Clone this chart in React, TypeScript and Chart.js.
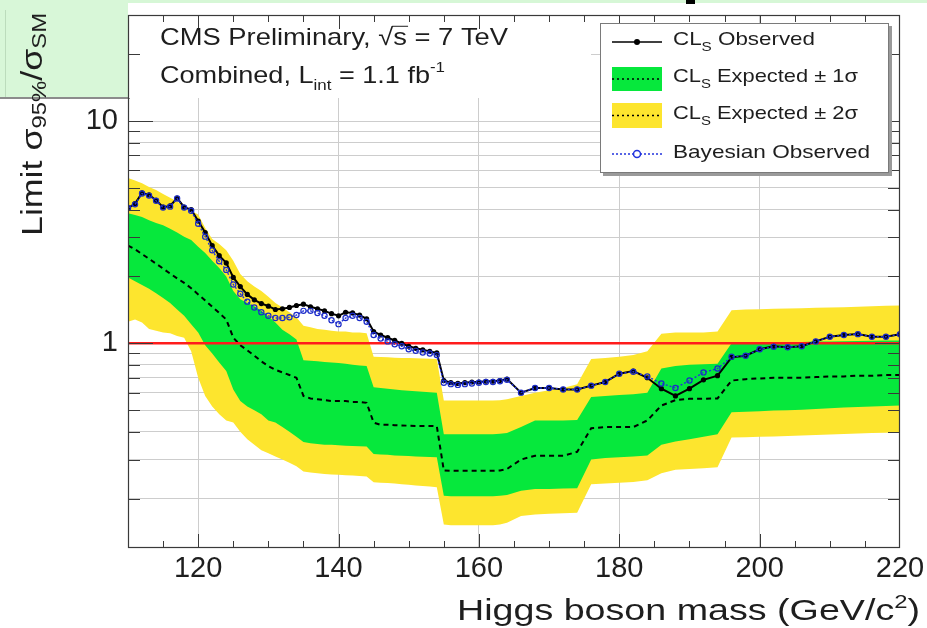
import { useEffect, useRef } from 'react';
import { Chart, registerables } from 'chart.js';

Chart.register(...registerables);

// Higgs mass points (GeV/c^2)
const masses = [
  110, 111, 112, 113, 114, 115, 116, 117, 118, 119,
  120, 121, 122, 123, 124, 125, 126, 127, 128, 129,
  130, 131, 132, 133, 134, 135, 136, 137, 138, 139,
  140, 141, 142, 143, 144, 145, 146, 147, 148, 149,
  150, 151, 152, 153, 154, 155, 156, 157, 158, 159,
  160, 161, 162, 163, 164, 166, 168, 170, 172, 174,
  176, 178, 180, 182, 184, 186, 188, 190, 192, 194,
  196, 198, 200, 202, 204, 206, 208, 210, 212, 214,
  216, 218, 220,
];

// CLs observed limit on sigma/sigma_SM
const observed = [
  4.06, 4.25, 4.75, 4.65, 4.40, 4.10, 4.15, 4.50, 4.10, 4.00,
  3.55, 3.15, 2.75, 2.48, 2.30, 1.98, 1.80, 1.66, 1.57, 1.51,
  1.47, 1.42, 1.43, 1.45, 1.48, 1.50, 1.46, 1.43, 1.40, 1.36,
  1.33, 1.38, 1.37, 1.34, 1.29, 1.13, 1.09, 1.06, 1.03, 1.00,
  0.97, 0.95, 0.935, 0.92, 0.905, 0.68, 0.665, 0.66, 0.665, 0.67,
  0.67, 0.675, 0.675, 0.68, 0.69, 0.60, 0.63, 0.63, 0.62, 0.62,
  0.645, 0.67, 0.73, 0.75, 0.70, 0.625, 0.58, 0.625, 0.685, 0.715,
  0.865, 0.88, 0.94, 0.97, 0.96, 0.97, 1.02, 1.07, 1.09, 1.10,
  1.07, 1.07, 1.10,
];

// Bayesian observed limit
const bayesian = [
  4.06, 4.22, 4.72, 4.62, 4.38, 4.08, 4.12, 4.48, 4.08, 3.95,
  3.45, 3.02, 2.62, 2.34, 2.14, 1.84, 1.67, 1.54, 1.45, 1.38,
  1.33, 1.30, 1.30, 1.31, 1.34, 1.40, 1.40, 1.37, 1.33, 1.27,
  1.22, 1.30, 1.33, 1.30, 1.25, 1.09, 1.05, 1.02, 0.99, 0.97,
  0.94, 0.925, 0.91, 0.90, 0.885, 0.665, 0.655, 0.65, 0.655, 0.66,
  0.665, 0.67, 0.67, 0.675, 0.685, 0.60, 0.63, 0.63, 0.62, 0.62,
  0.645, 0.67, 0.73, 0.745, 0.71, 0.66, 0.63, 0.68, 0.74, 0.77,
  0.87, 0.88, 0.94, 0.965, 0.96, 0.97, 1.02, 1.07, 1.09, 1.10,
  1.07, 1.07, 1.10,
];

// CLs expected median
const expected = [
  2.75, 2.65, 2.52, 2.40, 2.28, 2.17, 2.06, 1.96, 1.87, 1.77,
  1.66, 1.56, 1.46, 1.37, 1.28, 1.06, 0.98, 0.93, 0.88, 0.83,
  0.79, 0.76, 0.74, 0.72, 0.70, 0.58, 0.565, 0.56, 0.555, 0.55,
  0.55, 0.55, 0.545, 0.545, 0.54, 0.44, 0.43, 0.43, 0.428, 0.427,
  0.426, 0.425, 0.425, 0.425, 0.424, 0.268, 0.267, 0.267, 0.267, 0.267,
  0.267, 0.267, 0.267, 0.268, 0.272, 0.30, 0.312, 0.312, 0.312, 0.325,
  0.415, 0.42, 0.42, 0.42, 0.45, 0.525, 0.555, 0.563, 0.563, 0.565,
  0.68, 0.69, 0.695, 0.70, 0.70, 0.70, 0.705, 0.71, 0.71, 0.715,
  0.715, 0.72, 0.72,
];

// Expected -2 sigma
const minus2 = [
  1.25, 1.28, 1.24, 1.16, 1.14, 1.12, 1.11, 1.08, 1.06, 0.92,
  0.70, 0.58, 0.52, 0.48, 0.45, 0.44, 0.40, 0.37, 0.35, 0.33,
  0.32, 0.31, 0.30, 0.29, 0.28, 0.265, 0.262, 0.26, 0.258, 0.257,
  0.256, 0.255, 0.254, 0.253, 0.252, 0.237, 0.236, 0.235, 0.234, 0.232,
  0.231, 0.229, 0.228, 0.227, 0.225, 0.153, 0.152, 0.152, 0.152, 0.152,
  0.152, 0.152, 0.152, 0.153, 0.156, 0.167, 0.170, 0.171, 0.172, 0.173,
  0.232, 0.234, 0.236, 0.238, 0.242, 0.260, 0.270, 0.272, 0.274, 0.277,
  0.377, 0.378, 0.380, 0.381, 0.383, 0.385, 0.387, 0.389, 0.391, 0.393,
  0.395, 0.396, 0.397,
];

// Expected -1 sigma
const minus1 = [
  1.98, 1.90, 1.83, 1.76, 1.68, 1.60, 1.52, 1.42, 1.33, 1.22,
  1.12, 0.98, 0.90, 0.82, 0.75, 0.62, 0.55, 0.52, 0.50, 0.48,
  0.45, 0.44, 0.42, 0.40, 0.38, 0.36, 0.355, 0.352, 0.35, 0.35,
  0.348, 0.346, 0.345, 0.344, 0.343, 0.318, 0.316, 0.315, 0.313, 0.312,
  0.311, 0.310, 0.309, 0.308, 0.307, 0.206, 0.205, 0.205, 0.205, 0.205,
  0.205, 0.205, 0.205, 0.206, 0.208, 0.217, 0.221, 0.221, 0.222, 0.223,
  0.300, 0.305, 0.307, 0.310, 0.313, 0.350, 0.362, 0.370, 0.380, 0.390,
  0.490, 0.492, 0.495, 0.498, 0.500, 0.503, 0.507, 0.510, 0.514, 0.517,
  0.520, 0.523, 0.525,
];

// Expected +1 sigma
const plus1 = [
  3.85, 3.78, 3.70, 3.58, 3.48, 3.40, 3.28, 3.15, 3.02, 2.92,
  2.72, 2.55, 2.35, 2.18, 2.00, 1.72, 1.58, 1.52, 1.47, 1.40,
  1.32, 1.24, 1.15, 1.10, 1.04, 0.84, 0.835, 0.83, 0.825, 0.82,
  0.815, 0.81, 0.80, 0.795, 0.79, 0.635, 0.630, 0.625, 0.620, 0.615,
  0.612, 0.608, 0.605, 0.602, 0.600, 0.390, 0.390, 0.390, 0.390, 0.390,
  0.390, 0.390, 0.390, 0.392, 0.395, 0.420, 0.449, 0.449, 0.450, 0.452,
  0.573, 0.580, 0.585, 0.590, 0.600, 0.770, 0.790, 0.800, 0.805, 0.810,
  1.000, 1.005, 1.010, 1.010, 1.012, 1.015, 1.018, 1.020, 1.022, 1.025,
  1.027, 1.030, 1.030,
];

// Expected +2 sigma
const plus2 = [
  5.55, 5.40, 5.25, 5.05, 4.90, 4.70, 4.52, 4.35, 4.15, 3.95,
  3.80, 3.30, 2.95, 2.80, 2.62, 2.35, 2.05, 1.90, 1.80, 1.72,
  1.62, 1.52, 1.45, 1.38, 1.31, 1.20, 1.18, 1.16, 1.15, 1.14,
  1.13, 1.13, 1.12, 1.12, 1.11, 0.870, 0.867, 0.865, 0.862, 0.860,
  0.858, 0.856, 0.854, 0.852, 0.850, 0.553, 0.553, 0.553, 0.553, 0.553,
  0.553, 0.553, 0.553, 0.555, 0.560, 0.580, 0.600, 0.615, 0.630, 0.655,
  0.850, 0.860, 0.870, 0.885, 0.920, 1.105, 1.120, 1.120, 1.120, 1.130,
  1.410, 1.420, 1.425, 1.430, 1.435, 1.440, 1.445, 1.450, 1.455, 1.460,
  1.470, 1.475, 1.480,
];

// Axis ticks
const xTickValues = [
  110, 115, 120, 125, 130, 135, 140, 145, 150, 155, 160, 165,
  170, 175, 180, 185, 190, 195, 200, 205, 210, 215, 220,
];
const xLabelValues = [120, 140, 160, 180, 200, 220];
const xGridValues = [120, 140, 160, 180, 200];
const yTickValues = [
  0.2, 0.3, 0.4, 0.5, 0.6, 0.7, 0.8, 0.9,
  1, 2, 3, 4, 5, 6, 7, 8, 9, 10, 20,
];
const yLabelValues = [1, 10];
const smLine = [1, 1];

const FONT = "'Liberation Sans', Arial, Helvetica, sans-serif";
const YELLOW = '#fde52e';
const GREEN = '#06e83c';
const BLUE = '#2233dd';
const INK = '#1e1e1e';

type Run = { t: string; s: number; dy?: number; over?: boolean };

function runWidths(ctx: CanvasRenderingContext2D, runs: Run[]) {
  return runs.map((r) => {
    ctx.font = `${r.s}px ${FONT}`;
    return ctx.measureText(r.t).width;
  });
}

// Draws a line of mixed-size text (sub/superscripts), scaled to a width.
function drawRuns(
  ctx: CanvasRenderingContext2D,
  runs: Run[],
  x: number,
  y: number,
  target?: number,
  color: string = INK,
) {
  const widths = runWidths(ctx, runs);
  const total = widths.reduce((a, b) => a + b, 0);
  const sx = target ? target / total : 1;
  ctx.save();
  ctx.translate(x, y);
  ctx.scale(sx, 1);
  ctx.fillStyle = color;
  ctx.strokeStyle = color;
  ctx.textAlign = 'left';
  ctx.textBaseline = 'alphabetic';
  let cx = 0;
  runs.forEach((r, i) => {
    ctx.font = `${r.s}px ${FONT}`;
    ctx.fillText(r.t, cx, r.dy || 0);
    if (r.over) {
      ctx.lineWidth = 1;
      ctx.beginPath();
      ctx.moveTo(cx - 1, -r.s * 0.78);
      ctx.lineTo(cx + widths[i] + 1, -r.s * 0.78);
      ctx.stroke();
    }
    cx += widths[i];
  });
  ctx.restore();
}

const cmsDecor = {
  id: 'cmsDecor',
  beforeDatasetsDraw(chart: any) {
    const { ctx, chartArea } = chart;
    // blank panel behind the header text
    ctx.save();
    ctx.fillStyle = '#ffffff';
    ctx.fillRect(chartArea.left + 1, chartArea.top + 1, 590 - chartArea.left, 97 - chartArea.top);
    ctx.restore();
  },
  afterDatasetsDraw(chart: any) {
    const { ctx, chartArea } = chart;
    const { left, right, top, bottom } = chartArea;
    const xs = chart.scales.x;
    const ys = chart.scales.y;

    ctx.save();
    // frame
    ctx.strokeStyle = '#3a3a3a';
    ctx.lineWidth = 1.2;
    ctx.strokeRect(left + 0.5, top + 0.5, right - left - 1, bottom - top - 1);

    // inward tick marks
    ctx.lineWidth = 1;
    ctx.beginPath();
    for (const t of xs.ticks) {
      const v = t.value;
      if (v <= xs.min || v >= xs.max) continue;
      const px = Math.round(xs.getPixelForValue(v)) + 0.5;
      const len = xLabelValues.includes(v) ? 14 : 7;
      ctx.moveTo(px, bottom);
      ctx.lineTo(px, bottom - len);
      ctx.moveTo(px, top);
      ctx.lineTo(px, top + len);
    }
    for (const t of ys.ticks) {
      const v = t.value;
      const py = Math.round(ys.getPixelForValue(v)) + 0.5;
      const len = yLabelValues.includes(v) ? 25 : 12;
      ctx.moveTo(left, py);
      ctx.lineTo(left + len, py);
      ctx.moveTo(right, py);
      ctx.lineTo(right - len, py);
    }
    ctx.stroke();

    // legend box
    const lx = 600;
    const ly = 23;
    const lw = 289;
    const lh = 150;
    ctx.fillStyle = '#9a9a9a';
    ctx.fillRect(lx + 3, ly + 3, lw, lh);
    ctx.fillStyle = '#ffffff';
    ctx.fillRect(lx, ly, lw, lh);
    ctx.strokeStyle = '#7a7a7a';
    ctx.lineWidth = 1;
    ctx.strokeRect(lx + 0.5, ly + 0.5, lw - 1, lh - 1);

    const sx0 = 612;
    const sx1 = 662;
    const smid = 637;

    // observed entry
    ctx.strokeStyle = '#000';
    ctx.lineWidth = 1.5;
    ctx.beginPath();
    ctx.moveTo(sx0, 42);
    ctx.lineTo(sx1, 42);
    ctx.stroke();
    ctx.fillStyle = '#000';
    ctx.beginPath();
    ctx.arc(smid, 42, 3, 0, Math.PI * 2);
    ctx.fill();

    // band entries
    ctx.fillStyle = GREEN;
    ctx.fillRect(sx0, 67, sx1 - sx0, 24);
    ctx.fillStyle = YELLOW;
    ctx.fillRect(sx0, 103, sx1 - sx0, 25);
    ctx.setLineDash([2, 3]);
    ctx.lineWidth = 1.5;
    ctx.strokeStyle = '#000';
    ctx.beginPath();
    ctx.moveTo(sx0, 79);
    ctx.lineTo(sx1, 79);
    ctx.moveTo(sx0, 115.5);
    ctx.lineTo(sx1, 115.5);
    ctx.stroke();

    // bayesian entry
    ctx.strokeStyle = BLUE;
    ctx.setLineDash([2, 2]);
    ctx.beginPath();
    ctx.moveTo(sx0, 154);
    ctx.lineTo(sx1, 154);
    ctx.stroke();
    ctx.setLineDash([]);
    ctx.fillStyle = '#fff';
    ctx.beginPath();
    ctx.arc(smid, 154, 3.5, 0, Math.PI * 2);
    ctx.fill();
    ctx.stroke();

    const tx = 673;
    drawRuns(ctx, [{ t: 'CL', s: 19 }, { t: 'S', s: 13, dy: 6 }, { t: ' Observed', s: 19 }], tx, 45, 142);
    drawRuns(ctx, [{ t: 'CL', s: 19 }, { t: 'S', s: 13, dy: 6 }, { t: ' Expected ± 1σ', s: 19 }], tx, 82, 185);
    drawRuns(ctx, [{ t: 'CL', s: 19 }, { t: 'S', s: 13, dy: 6 }, { t: ' Expected ± 2σ', s: 19 }], tx, 119, 185);
    drawRuns(ctx, [{ t: 'Bayesian Observed', s: 19 }], tx, 158, 197);

    // header text
    drawRuns(
      ctx,
      [
        { t: 'CMS Preliminary, √', s: 24 },
        { t: 's', s: 24, over: true },
        { t: ' = 7 TeV', s: 24 },
      ],
      160,
      45,
      348,
    );
    drawRuns(
      ctx,
      [
        { t: 'Combined, L', s: 24 },
        { t: 'int', s: 15, dy: 7 },
        { t: ' = 1.1 fb', s: 24 },
        { t: '-1', s: 15, dy: -11 },
      ],
      160,
      83,
      285,
    );
    ctx.restore();
  },
  afterDraw(chart: any) {
    const { ctx } = chart;
    ctx.save();
    // x axis title
    drawRuns(
      ctx,
      [
        { t: 'Higgs boson mass (GeV/c', s: 30 },
        { t: '2', s: 19, dy: -12 },
        { t: ')', s: 30 },
      ],
      457,
      620,
      463,
    );
    // y axis title (rotated)
    ctx.translate(42, 236);
    ctx.rotate(-Math.PI / 2);
    drawRuns(
      ctx,
      [
        { t: 'Limit σ', s: 30 },
        { t: '95%', s: 20, dy: 4 },
        { t: '/σ', s: 30 },
        { t: 'SM', s: 20, dy: 4 },
      ],
      0,
      0,
      223,
    );
    ctx.restore();
  },
};

export default function App() {
  const ref = useRef<HTMLCanvasElement>(null);

  useEffect(() => {
    const pts = (vals: number[]) => masses.map((m, i) => ({ x: m, y: vals[i] }));
    const hidden = {
      borderColor: 'rgba(0,0,0,0)',
      borderWidth: 1,
      pointRadius: 0,
    };
    const chart = new Chart(ref.current as HTMLCanvasElement, {
      type: 'line',
      data: {
        datasets: [
          { label: '+2σ', data: pts(plus2), fill: 1, backgroundColor: YELLOW, ...hidden, order: 6 },
          { label: '-2σ', data: pts(minus2), fill: false, ...hidden, order: 6 },
          { label: '+1σ', data: pts(plus1), fill: 3, backgroundColor: GREEN, ...hidden, order: 5 },
          { label: '-1σ', data: pts(minus1), fill: false, ...hidden, order: 5 },
          {
            label: 'CLs Expected',
            data: pts(expected),
            borderColor: '#000',
            borderWidth: 2,
            borderDash: [5, 4],
            pointRadius: 0,
            fill: false,
            order: 4,
          },
          {
            label: 'SM',
            data: [
              { x: masses[0], y: smLine[0] },
              { x: masses[masses.length - 1], y: smLine[1] },
            ],
            borderColor: '#ff1c1c',
            borderWidth: 2.5,
            pointRadius: 0,
            fill: false,
            order: 3,
          },
          {
            label: 'CLs Observed',
            data: pts(observed),
            borderColor: '#000',
            borderWidth: 2,
            pointRadius: 2.6,
            pointBackgroundColor: '#000',
            pointBorderWidth: 0,
            fill: false,
            order: 2,
          },
          {
            label: 'Bayesian Observed',
            data: pts(bayesian),
            borderColor: BLUE,
            borderWidth: 1.4,
            borderDash: [2, 2],
            pointRadius: 2.6,
            pointBackgroundColor: 'rgba(0,0,0,0)',
            pointBorderColor: '#1b2bc8',
            pointBorderWidth: 1.2,
            fill: false,
            order: 1,
          },
        ],
      },
      options: {
        responsive: false,
        animation: false,
        devicePixelRatio: 1,
        layout: { padding: { top: 15, right: 27, left: 0, bottom: 0 } },
        elements: { line: { tension: 0 } },
        plugins: {
          legend: { display: false },
          tooltip: { enabled: false },
        },
        scales: {
          x: {
            type: 'linear',
            min: 110,
            max: 220,
            afterBuildTicks: (s: any) => {
              s.ticks = xTickValues.map((v) => ({ value: v }));
            },
            afterFit: (s: any) => {
              s.height = 80;
              s.paddingLeft = 0;
              s.paddingRight = 0;
            },
            border: { display: false },
            grid: {
              drawTicks: false,
              lineWidth: 1,
              color: (c: any) =>
                c.tick && xGridValues.includes(c.tick.value) ? '#cdcdcd' : 'rgba(0,0,0,0)',
            },
            ticks: {
              autoSkip: false,
              maxRotation: 0,
              padding: 4,
              color: INK,
              font: { family: FONT, size: 29 },
              callback: (v: any) => (xLabelValues.includes(Number(v)) ? String(v) : ''),
            },
          },
          y: {
            type: 'logarithmic',
            min: 0.12,
            max: 30,
            afterBuildTicks: (s: any) => {
              s.ticks = yTickValues.map((v) => ({ value: v }));
            },
            afterFit: (s: any) => {
              s.width = 128;
              s.paddingTop = 0;
              s.paddingBottom = 0;
            },
            border: { display: false },
            grid: { drawTicks: false, lineWidth: 1, color: '#cdcdcd' },
            ticks: {
              autoSkip: false,
              padding: 10,
              color: INK,
              font: { family: FONT, size: 29 },
              callback: (v: any) => (yLabelValues.includes(Number(v)) ? String(v) : ''),
            },
          },
        },
      },
      plugins: [cmsDecor],
    } as any);
    return () => chart.destroy();
  }, []);

  return (
    <div
      style={{
        position: 'fixed',
        left: 0,
        top: 0,
        width: 927,
        height: 628,
        background: '#ffffff',
        overflow: 'hidden',
      }}
    >
      <div style={{ position: 'absolute', left: 0, top: 0, width: 927, height: 3, background: '#d6f7d6' }} />
      <div style={{ position: 'absolute', left: 0, top: 0, width: 128, height: 97, background: '#d8f7d8' }} />
      <div style={{ position: 'absolute', left: 5, top: 10, width: 1, height: 87, background: '#bcdcbc' }} />
      <div style={{ position: 'absolute', left: 0, top: 97, width: 130, height: 2, background: '#8c8c8c' }} />
      <div style={{ position: 'absolute', left: 686, top: 0, width: 9, height: 4, background: '#000000' }} />
      <canvas
        ref={ref}
        width={927}
        height={628}
        style={{ position: 'absolute', left: 0, top: 0, width: 927, height: 628 }}
      />
    </div>
  );
}
